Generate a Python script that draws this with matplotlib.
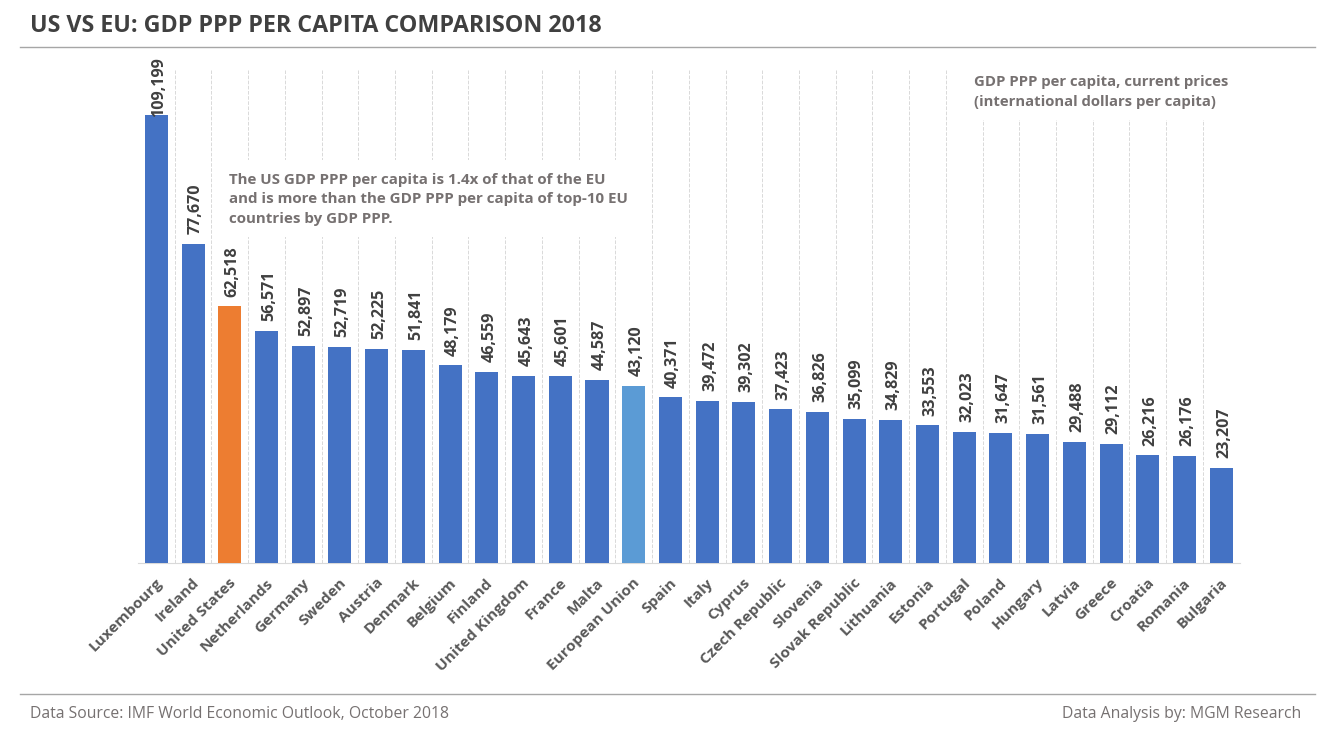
import matplotlib
matplotlib.use('Agg')
import matplotlib.pyplot as plt
from matplotlib.lines import Line2D
from matplotlib.patches import Rectangle
from matplotlib.transforms import ScaledTranslation
import numpy as np

countries = ['Luxembourg', 'Ireland', 'United States', 'Netherlands', 'Germany', 'Sweden',
             'Austria', 'Denmark', 'Belgium', 'Finland', 'United Kingdom', 'France', 'Malta',
             'European Union', 'Spain', 'Italy', 'Cyprus', 'Czech Republic', 'Slovenia',
             'Slovak Republic', 'Lithuania', 'Estonia', 'Portugal', 'Poland', 'Hungary',
             'Latvia', 'Greece', 'Croatia', 'Romania', 'Bulgaria']
gdp_ppp = [109199, 77670, 62518, 56571, 52897, 52719, 52225, 51841, 48179, 46559, 45643,
           45601, 44587, 43120, 40371, 39472, 39302, 37423, 36826, 35099, 34829, 33553,
           32023, 31647, 31561, 29488, 29112, 26216, 26176, 23207]

BLUE = '#4472C4'
ORANGE = '#ED7D31'
LIGHT = '#5B9BD5'
W, H = 1338, 746

plt.rcParams['font.family'] = ['Open Sans', 'DejaVu Sans']
fig = plt.figure(figsize=(W / 100, H / 100), dpi=100)
ax = fig.add_axes([138 / W, 1 - 563.2 / H, 1101.6 / W, 493 / H])

colors = [BLUE] * len(countries)
colors[countries.index('United States')] = ORANGE
colors[countries.index('European Union')] = LIGHT

x = np.arange(len(countries))
ax.bar(x, gdp_ppp, width=0.627, color=colors, zorder=3)
ax.set_xlim(-0.5, len(countries) - 0.5)
ax.set_ylim(0, 120000)

# gridlines sit on the category boundaries
ax.set_xticks(x[:-1] + 0.5, minor=True)
ax.grid(True, axis='x', which='minor', color='#D9D9D9', linestyle='--', linewidth=0.7, zorder=0)
ax.tick_params(axis='x', which='both', length=0)
ax.set_yticks([])
ax.set_xticks(x)
ax.set_xticklabels(countries, rotation=45, ha='right', rotation_mode='anchor',
                   fontsize=11.1, fontweight='bold', color='#595959')
ax.tick_params(axis='x', which='major', pad=9)
# nudge the slanted labels a little to the left
nudge = ScaledTranslation(-1 / 100, 0, fig.dpi_scale_trans)
for lab in ax.get_xticklabels():
    lab.set_transform(lab.get_transform() + nudge)
for s in ['top', 'left', 'right']:
    ax.spines[s].set_visible(False)
ax.spines['bottom'].set_color('#D9D9D9')

for i, v in enumerate(gdp_ppp):
    # the tallest label runs out of room and drops onto its bar
    off = -2 if v == max(gdp_ppp) else 7
    ax.annotate(f'{v:,}', (i, v), xytext=(2, off), textcoords='offset points', rotation=90,
                ha='center', va='bottom', fontsize=11.6, fontweight='bold', color='#404040', zorder=6)

# white boxes behind the two notes hide the gridlines
for bx, by, bw, bh in [(225, 160, 415, 77), (965, 68, 275, 52)]:
    fig.add_artist(Rectangle((bx / W, 1 - (by + bh) / H), bw / W, bh / H, facecolor='white',
                             edgecolor='none', transform=fig.transFigure, zorder=4))

def px_text(px, py, s, **kw):
    fig.text(px / W, 1 - py / H, s, zorder=7, **kw)

px_text(30, 26, 'US VS EU: GDP PPP PER CAPITA COMPARISON 2018', fontsize=16.75, fontweight='bold',
        color='#404040', va='center')
px_text(229, 199.5, 'The US GDP PPP per capita is 1.4x of that of the EU\n'
        'and is more than the GDP PPP per capita of top-10 EU\ncountries by GDP PPP.',
        fontsize=10.9, fontweight='bold', color='#767171', va='center', linespacing=1.53)
px_text(974, 92, 'GDP PPP per capita, current prices\n(international dollars per capita)',
        fontsize=10.75, fontweight='bold', color='#767171', va='center', linespacing=1.53)
px_text(30, 713.5, 'Data Source: IMF World Economic Outlook, October 2018', fontsize=11.35,
        color='#767171', va='center')
px_text(1301, 713.5, 'Data Analysis by: MGM Research', fontsize=11.3, color='#767171',
        va='center', ha='right')

for py in [47, 694]:
    fig.add_artist(Line2D([20 / W, 1315 / W], [1 - py / H] * 2, color='#A6A6A6', linewidth=1))

fig.savefig('out.png', dpi=100)
